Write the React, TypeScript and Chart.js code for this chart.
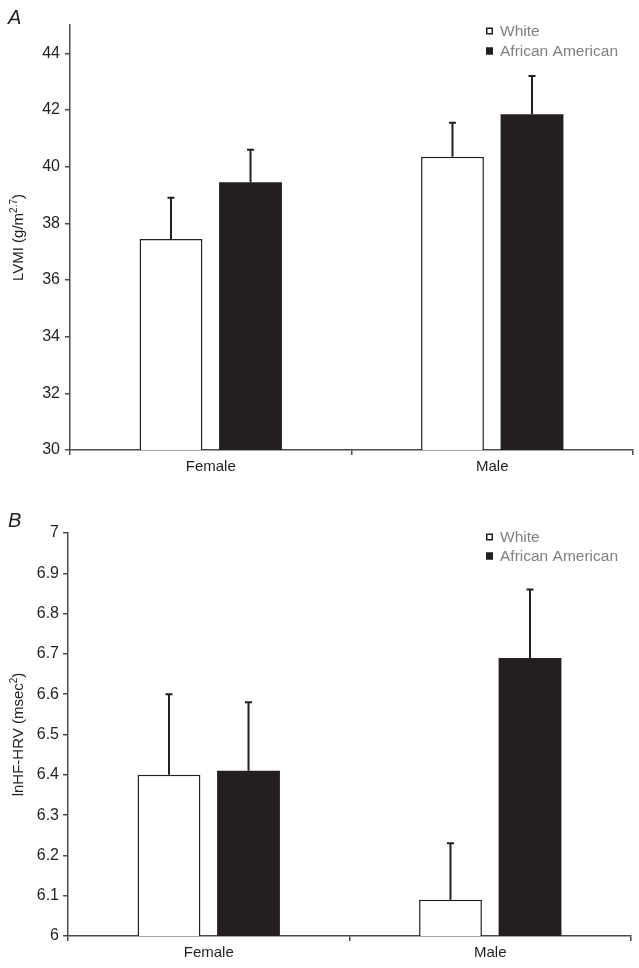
import React, { useEffect, useRef } from "react";
import { Chart, registerables } from "chart.js";

Chart.register(...registerables);

// ---------- data ----------
const categories = ["Female", "Male"];
const seriesLabels = ["White", "African American"];

const lvmiWhite = [37.45, 40.35];
const lvmiWhiteErr = [1.45, 1.2];
const lvmiBlack = [39.45, 41.85];
const lvmiBlackErr = [1.15, 1.35];
const lvmiTicks = [30, 32, 34, 36, 38, 40, 42, 44];
const lvmiRange = [30, 45];

const hrvWhite = [6.4, 6.09];
const hrvWhiteErr = [0.2, 0.14];
const hrvBlack = [6.41, 6.69];
const hrvBlackErr = [0.17, 0.17];
const hrvTicks = [6, 6.1, 6.2, 6.3, 6.4, 6.5, 6.6, 6.7, 6.8, 6.9, 7];
const hrvRange = [6, 7];

// ---------- styles ----------
const W = 639;
const H = 484;
const INK = "#231f20";
const AXIS = "#4a4a4a";
const LEGEND_TEXT = "#808080";
const FONT = '"Liberation Sans", Arial, Helvetica, sans-serif';

type PanelSpec = {
  white: number[];
  whiteErr: number[];
  black: number[];
  blackErr: number[];
  ticks: number[];
  range: number[];
  title: string;
  titleSup: string;
  letter: string;
  area: { left: number; right: number; top: number; bottom: number };
  legendY: number[];
  letterY: number;
  tickPad: number;
};

const errorBarPlugin = {
  id: "errorBars",
  afterDatasetsDraw(chart: any) {
    const ctx = chart.ctx;
    const yScale = chart.scales.y;
    chart.data.datasets.forEach((ds: any, i: number) => {
      const meta = chart.getDatasetMeta(i);
      meta.data.forEach((bar: any, j: number) => {
        const x = bar.x;
        const top = bar.y;
        const yE = yScale.getPixelForValue(ds.data[j] + ds.errors[j]);
        ctx.save();
        ctx.strokeStyle = INK;
        ctx.lineWidth = 2;
        ctx.beginPath();
        ctx.moveTo(x, top);
        ctx.lineTo(x, yE);
        ctx.moveTo(x - 3.5, yE);
        ctx.lineTo(x + 3.5, yE);
        ctx.stroke();
        ctx.restore();
      });
    });
  },
};

function makeDecorPlugin(spec: PanelSpec) {
  return {
    id: "decor",
    afterDraw(chart: any) {
      const ctx = chart.ctx;
      const area = chart.chartArea;
      ctx.save();
      // panel letter
      ctx.fillStyle = INK;
      ctx.font = `italic 20px ${FONT}`;
      ctx.textBaseline = "alphabetic";
      ctx.textAlign = "left";
      ctx.fillText(spec.letter, 8, spec.letterY);

      // y title with superscript
      ctx.save();
      const cy = (area.top + area.bottom) / 2;
      ctx.translate(18, cy);
      ctx.rotate(-Math.PI / 2);
      ctx.font = `15px ${FONT}`;
      const mainW = ctx.measureText(spec.title).width;
      const closeW = ctx.measureText(")").width;
      ctx.font = `10px ${FONT}`;
      const supW = ctx.measureText(spec.titleSup).width;
      let x = -(mainW + supW + closeW) / 2;
      ctx.fillStyle = INK;
      ctx.font = `15px ${FONT}`;
      ctx.fillText(spec.title, x, 5);
      x += mainW;
      ctx.font = `10px ${FONT}`;
      ctx.fillText(spec.titleSup, x, -1);
      x += supW;
      ctx.font = `15px ${FONT}`;
      ctx.fillText(")", x, 5);
      ctx.restore();

      // legend
      const colors = ["#ffffff", INK];
      seriesLabels.forEach((label, i) => {
        const ly = spec.legendY[i];
        ctx.fillStyle = colors[i];
        ctx.fillRect(486, ly - 3.5, 7, 7);
        ctx.strokeStyle = INK;
        ctx.lineWidth = 1.5;
        ctx.strokeRect(486.75, ly - 2.75, 5.5, 5.5);
        ctx.fillStyle = LEGEND_TEXT;
        ctx.font = `15.5px ${FONT}`;
        ctx.textBaseline = "middle";
        ctx.fillText(label, 500, ly + 1);
      });
      ctx.restore();
    },
  };
}

function buildConfig(spec: PanelSpec): any {
  const gridCfg = {
    display: true,
    drawOnChartArea: false,
    drawTicks: true,
    tickLength: 5,
    color: AXIS,
    lineWidth: 1.5,
  };
  const borderCfg = { display: true, color: AXIS, width: 1.5 };
  return {
    type: "bar",
    data: {
      labels: categories,
      datasets: [
        {
          label: seriesLabels[0],
          data: spec.white,
          errors: spec.whiteErr,
          backgroundColor: "#ffffff",
          borderColor: INK,
          borderWidth: 1.5,
          borderSkipped: false,
          categoryPercentage: 0.565,
          barPercentage: 0.79,
        },
        {
          label: seriesLabels[1],
          data: spec.black,
          errors: spec.blackErr,
          backgroundColor: INK,
          borderColor: INK,
          borderWidth: 0,
          categoryPercentage: 0.565,
          barPercentage: 0.79,
        },
      ],
    },
    options: {
      responsive: false,
      maintainAspectRatio: false,
      animation: false,
      devicePixelRatio: 1,
      layout: {
        padding: { left: 0, right: W - spec.area.right, top: spec.area.top, bottom: 0 },
      },
      plugins: {
        legend: { display: false },
        tooltip: { enabled: false },
        title: { display: false },
      },
      scales: {
        x: {
          type: "category",
          offset: true,
          grid: { ...gridCfg, offset: true },
          border: borderCfg,
          ticks: { font: { family: FONT, size: 15 }, color: INK, padding: 3 },
          afterFit: (s: any) => {
            s.height = H - spec.area.bottom;
          },
        },
        y: {
          type: "linear",
          min: spec.range[0],
          max: spec.range[1],
          grid: gridCfg,
          border: borderCfg,
          ticks: {
            font: { family: FONT, size: 16 },
            color: INK,
            padding: spec.tickPad,
            callback: (v: any) => String(v),
          },
          afterBuildTicks: (s: any) => {
            s.ticks = spec.ticks.map((v) => ({ value: v }));
          },
          afterFit: (s: any) => {
            s.width = spec.area.left;
          },
        },
      },
    },
    plugins: [errorBarPlugin, makeDecorPlugin(spec)],
  };
}

const panelA: PanelSpec = {
  white: lvmiWhite,
  whiteErr: lvmiWhiteErr,
  black: lvmiBlack,
  blackErr: lvmiBlackErr,
  ticks: lvmiTicks,
  range: lvmiRange,
  title: "LVMI (g/m",
  titleSup: "2.7",
  letter: "A",
  area: { left: 70, right: 633, top: 25, bottom: 450 },
  legendY: [31, 51],
  letterY: 24,
  tickPad: 5,
};

const panelB: PanelSpec = {
  white: hrvWhite,
  whiteErr: hrvWhiteErr,
  black: hrvBlack,
  blackErr: hrvBlackErr,
  ticks: hrvTicks,
  range: hrvRange,
  title: "lnHF-HRV (msec",
  titleSup: "2",
  letter: "B",
  area: { left: 68, right: 631, top: 49, bottom: 452 },
  legendY: [53, 72],
  letterY: 43,
  tickPad: 4,
};

function Panel({ spec, top }: { spec: PanelSpec; top: number }) {
  const ref = useRef<HTMLCanvasElement | null>(null);
  useEffect(() => {
    if (!ref.current) return;
    const chart = new Chart(ref.current, buildConfig(spec));
    return () => chart.destroy();
  }, [spec]);
  return (
    <canvas
      ref={ref}
      width={W}
      height={H}
      style={{ position: "absolute", left: 0, top, width: W, height: H, display: "block" }}
    />
  );
}

export default function App() {
  return (
    <div style={{ position: "absolute", left: 0, top: 0, width: W, height: 968, background: "#fff" }}>
      <Panel spec={panelA} top={0} />
      <Panel spec={panelB} top={484} />
    </div>
  );
}
